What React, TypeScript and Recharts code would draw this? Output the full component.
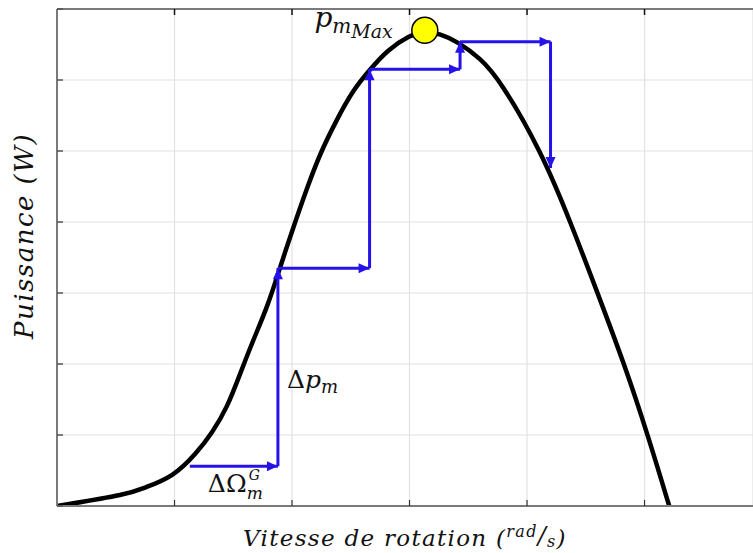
import React from 'react';
import { ComposedChart, Line, XAxis, YAxis, CartesianGrid, ReferenceDot } from 'recharts';

// Axis ticks (no tick labels are shown)
const speedTicks = [0, 1, 2, 3, 4, 5];
const powerTicks = [0, 1, 2, 3, 4, 5, 6, 7];

// Power curve P(Ω)
const curveSpeed = [0, 0.62, 0.73, 0.99, 1.19, 1.32, 1.45, 1.56, 1.67, 1.79, 1.9, 2.01, 2.13, 2.24, 2.38, 2.52, 2.66, 2.81, 3.0, 3.13, 3.26, 3.41, 3.6, 3.77, 4.12, 4.37, 4.6, 4.83, 5.03, 5.21];
const curvePower = [0, 0.17, 0.25, 0.41, 0.75, 1.03, 1.39, 1.87, 2.34, 2.8, 3.37, 3.92, 4.49, 4.97, 5.44, 5.86, 6.14, 6.42, 6.63, 6.69, 6.65, 6.54, 6.31, 6.0, 5.0, 4.0, 3.0, 1.99, 0.99, 0];

// MPPT perturb & observe steps
const mpptSpeed = [1.13, 1.88, 1.88, 2.66, 2.66, 3.43, 3.43, 4.2, 4.2];
const mpptPower = [0.56, 0.56, 3.35, 3.35, 6.15, 6.15, 6.54, 6.54, 4.76];

// Maximum power point
const peakSpeed = 3.13;
const peakPower = 6.7;

const curveData = curveSpeed.map((w, i) => ({ w, p: curvePower[i] }));
const segments = mpptSpeed.slice(0, -1).map((w, i) => [
  { w, p: mpptPower[i] },
  { w: mpptSpeed[i + 1], p: mpptPower[i + 1] },
]);

const BLUE = '#2612e8';
const FONT = '"DejaVu Serif", serif';

const EmptyTick = () => <g />;

const arrowHead = (dirX: number, dirY: number) => (props: any) => {
  const { cx, cy, index } = props;
  if (index !== 1 || cx == null || cy == null) return <g key={`d-${index}`} />;
  const L = 11;
  const W = 5;
  const bx = cx - dirX * L;
  const by = cy - dirY * L;
  const px = -dirY;
  const py = dirX;
  const pts = `${cx},${cy} ${bx + px * W},${by + py * W} ${bx - px * W},${by - py * W}`;
  return <polygon key={`d-${index}`} points={pts} fill={BLUE} stroke="none" />;
};

const center = (vb: any) => ({ cx: vb.x + vb.width / 2, cy: vb.y + vb.height / 2 });

const PeakLabel = (props: any) => {
  const { cx, cy } = center(props.viewBox);
  return (
    <text x={cx - 32} y={cy - 3} textAnchor="end" fontFamily={FONT} fontStyle="italic" fill="#111">
      <tspan fontSize={28}>p</tspan>
      <tspan fontSize={20} dy={6}>m</tspan>
      <tspan fontSize={19} dy={5}>Max</tspan>
    </text>
  );
};

const DeltaPLabel = (props: any) => {
  const { cx, cy } = center(props.viewBox);
  return (
    <text x={cx + 9} y={cy + 21} fontFamily={FONT} fill="#111">
      <tspan fontSize={25}>Δ</tspan>
      <tspan fontSize={25} fontStyle="italic">p</tspan>
      <tspan fontSize={18} fontStyle="italic" dy={5}>m</tspan>
    </text>
  );
};

const DeltaOmegaLabel = (props: any) => {
  const { cx, cy } = center(props.viewBox);
  return (
    <text x={cx - 26} y={cy + 26} fontFamily={FONT} fill="#111" fontSize={25}>
      ΔΩ
      <tspan x={cx + 15} dy={-12} fontSize={14} fontStyle="italic">G</tspan>
      <tspan x={cx + 13} dy={19} fontSize={17} fontStyle="italic">m</tspan>
    </text>
  );
};

const XTitle = (props: any) => {
  const vb = props.viewBox;
  const x = vb.x + vb.width / 2;
  const y = vb.y + 40;
  return (
    <text x={x} y={y} textAnchor="middle" fontFamily={FONT} fontStyle="italic" fontSize={23} letterSpacing={1.3} fill="#111">
      Vitesse de rotation (
      <tspan fontSize={16} dy={-9}>rad</tspan>
      <tspan fontSize={24} dy={7}>/</tspan>
      <tspan fontSize={16} dy={3}>s</tspan>
      <tspan fontSize={23} dy={-1}>)</tspan>
    </text>
  );
};

const YTitle = (props: any) => {
  const vb = props.viewBox;
  const x = vb.x + vb.width - 24;
  const y = vb.y + 227;
  return (
    <text
      x={x}
      y={y}
      textAnchor="middle"
      transform={`rotate(-90 ${x} ${y})`}
      fontFamily={FONT}
      fontStyle="italic"
      fontSize={26}
      letterSpacing={1.5}
      fill="#111"
    >
      Puissance (W)
    </text>
  );
};

const axisLine = { stroke: '#7a7a7a', strokeWidth: 2 };

export default function App() {
  return (
    <div style={{ position: 'absolute', left: 0, top: 0 }}>
      <ComposedChart width={753} height={553} margin={{ top: 4, right: 0, bottom: 27, left: 37 }}>
        <CartesianGrid stroke="#e2e2e2" strokeWidth={1.2} />
        <XAxis
          type="number"
          dataKey="w"
          domain={[0, 5.923]}
          ticks={speedTicks}
          allowDataOverflow
          height={20}
          axisLine={axisLine}
          tickLine={{ stroke: '#333', strokeWidth: 1.2 }}
          tickSize={-6}
          tick={<EmptyTick />}
          label={<XTitle />}
        />
        <XAxis
          xAxisId="top"
          orientation="top"
          type="number"
          dataKey="w"
          domain={[0, 5.923]}
          ticks={speedTicks}
          allowDataOverflow
          height={5}
          axisLine={axisLine}
          tickLine={{ stroke: '#111', strokeWidth: 1.5 }}
          tickSize={-6}
          tick={<EmptyTick />}
        />
        <YAxis
          type="number"
          domain={[0, 7]}
          ticks={powerTicks}
          allowDataOverflow
          width={20}
          axisLine={axisLine}
          tickLine={{ stroke: '#555', strokeWidth: 1.5 }}
          tickSize={-6}
          tick={<EmptyTick />}
          label={<YTitle />}
        />
        <Line
          data={curveData}
          dataKey="p"
          type="basis"
          stroke="#000"
          strokeWidth={4.5}
          strokeLinejoin="round"
          dot={false}
          activeDot={false}
          isAnimationActive={false}
        />
        {segments.map((seg, i) => {
          const dx = Math.sign(seg[1].w - seg[0].w);
          const dy = -Math.sign(seg[1].p - seg[0].p);
          return (
            <Line
              key={`seg-${i}`}
              data={seg}
              dataKey="p"
              type="linear"
              stroke={BLUE}
              strokeWidth={3}
              dot={arrowHead(dx, dy)}
              activeDot={false}
              isAnimationActive={false}
            />
          );
        })}
        <ReferenceDot
          x={(mpptSpeed[0] + mpptSpeed[1]) / 2}
          y={mpptPower[0]}
          r={0}
          fill="none"
          stroke="none"
          label={<DeltaOmegaLabel />}
        />
        <ReferenceDot
          x={mpptSpeed[1]}
          y={(mpptPower[1] + mpptPower[2]) / 2}
          r={0}
          fill="none"
          stroke="none"
          label={<DeltaPLabel />}
        />
        <ReferenceDot
          x={peakSpeed}
          y={peakPower}
          r={13}
          fill="#ffff00"
          stroke="#000"
          strokeWidth={1.5}
          label={<PeakLabel />}
        />
      </ComposedChart>
    </div>
  );
}
